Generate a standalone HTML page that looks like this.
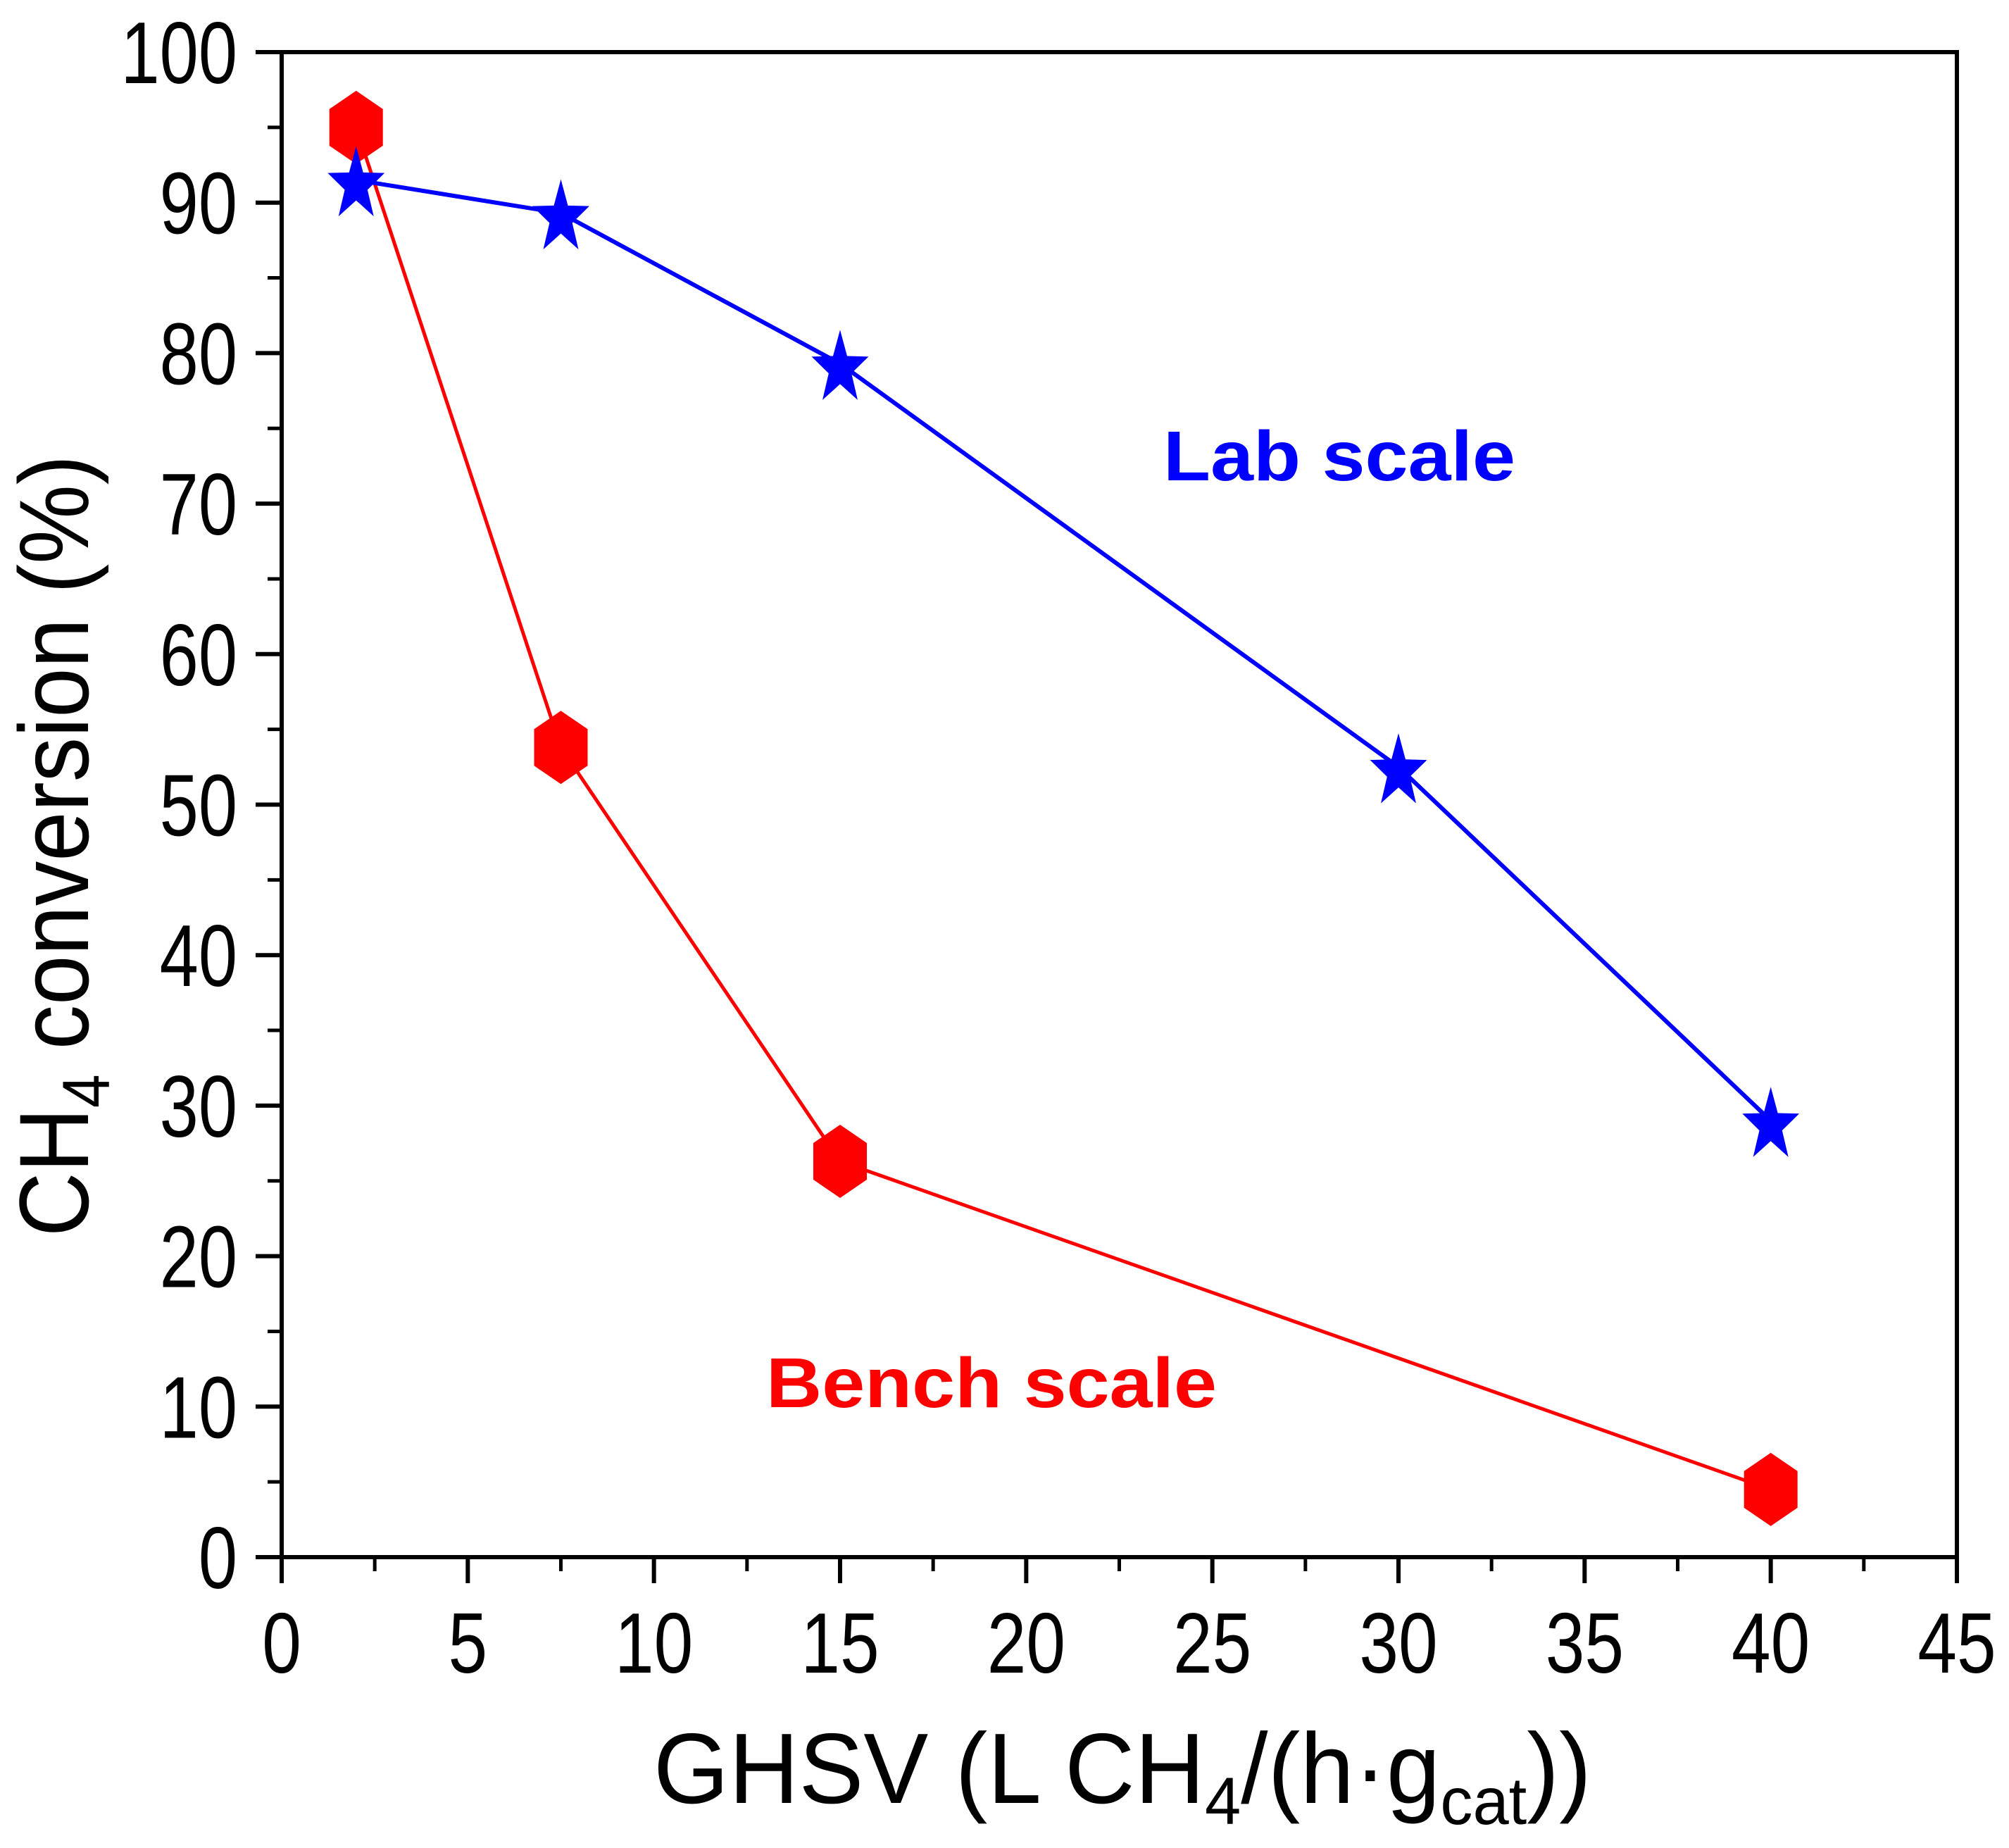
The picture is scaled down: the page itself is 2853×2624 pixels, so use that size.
<!DOCTYPE html>
<html><head><meta charset="utf-8">
<style>html,body{margin:0;padding:0;background:#fff;}svg{display:block;}</style>
</head><body>
<svg id="chart" width="2853" height="2624" viewBox="0 0 2853 2624" xmlns="http://www.w3.org/2000/svg" font-family="'Liberation Sans', Arial, sans-serif">
<rect width="2853" height="2624" fill="#fff"/>
<g id="axes"></g>
<g id="series"></g>
<text x="1652" y="682" font-size="100" font-weight="bold" fill="#0000ff" textLength="500" lengthAdjust="spacingAndGlyphs">Lab scale</text>
<text x="1088" y="1998" font-size="100" font-weight="bold" fill="#ff0000" textLength="640" lengthAdjust="spacingAndGlyphs">Bench scale</text>
<text x="928" y="2560" font-size="142" fill="#000" textLength="1332" lengthAdjust="spacingAndGlyphs">GHSV (L CH<tspan font-size="95" dy="30">4</tspan><tspan dy="-30">/(h·g</tspan><tspan font-size="95" dy="30">cat</tspan><tspan dy="-30">))</tspan></text>
<text transform="translate(125,1756) rotate(-90)" x="0" y="0" font-size="140" fill="#000" textLength="1110" lengthAdjust="spacingAndGlyphs">CH<tspan font-size="95" dy="30">4</tspan><tspan dy="-30"> conversion (%)</tspan></text>
</svg>
<script>
const xTicks = [0,5,10,15,20,25,30,35,40,45];
const yTicks = [0,10,20,30,40,50,60,70,80,90,100];
const labX = [2,7.5,15,30,40];
const labY = [91.5,89.3,79.3,52.5,29];
const benchX = [2,7.5,15,40];
const benchY = [95,53.8,26.3,4.5];

const L=400,R=2779,T=74,B=2211;
const sx=v=>L+(v-0)/(45-0)*(R-L);
const sy=v=>B-(v-0)/(100-0)*(B-T);
const NS='http://www.w3.org/2000/svg';
function mk(tag,attrs,parent){const e=document.createElementNS(NS,tag);for(const k in attrs)e.setAttribute(k,attrs[k]);parent.appendChild(e);return e;}
const axes=document.getElementById('axes');
const ser=document.getElementById('series');

let f=mk('rect',{x:L,y:T,width:R-L,height:B-T,fill:'none',stroke:'#000','stroke-width':6},axes);



for(let i=0;i<xTicks.length;i++){
  const v=xTicks[i];
  let t=mk('line',{x1:sx(v),x2:sx(v),y1:B,y2:B+37,stroke:'#000','stroke-width':6},axes);
  
  
  if(i<xTicks.length-1){
    const m=(v+xTicks[i+1])/2;
    let mt=mk('line',{x1:sx(m),x2:sx(m),y1:B,y2:B+20,stroke:'#000','stroke-width':5},axes);
    
    
  }
  let lb=mk('text',{transform:`translate(${sx(v)},2375) scale(0.82,1)`,'text-anchor':'middle','font-size':122,fill:'#000'},axes);
  lb.textContent=v;
  
  
}
for(let i=0;i<yTicks.length;i++){
  const v=yTicks[i];
  let t=mk('line',{x1:L-37,x2:L,y1:sy(v),y2:sy(v),stroke:'#000','stroke-width':6},axes);
  
  
  if(i<yTicks.length-1){
    const m=(v+yTicks[i+1])/2;
    let mt=mk('line',{x1:L-20,x2:L,y1:sy(m),y2:sy(m),stroke:'#000','stroke-width':5},axes);
    
    
  }
  let lb=mk('text',{transform:`translate(337,${sy(v)+44}) scale(0.8,1)`,'text-anchor':'end','font-size':124,fill:'#000'},axes);
  lb.textContent=v;
  
  
}

function pts(xs,ys){return xs.map((x,i)=>sx(x)+','+sy(ys[i])).join(' ');}
let rl=mk('polyline',{points:pts(benchX,benchY),fill:'none',stroke:'#ff0000','stroke-width':5},ser);


let bl=mk('polyline',{points:pts(labX,labY),fill:'none',stroke:'#0000ff','stroke-width':6},ser);



for(let i=0;i<benchX.length;i++){
  const cx=sx(benchX[i]),cy=sy(benchY[i]);
  const w=38,h=52;
  const p=[[cx,cy-h],[cx+w,cy-h/2],[cx+w,cy+h/2],[cx,cy+h],[cx-w,cy+h/2],[cx-w,cy-h/2]].map(a=>a.join(',')).join(' ');
  let m=mk('polygon',{points:p,fill:'#ff0000'},ser);
  
  
}
for(let i=0;i<labX.length;i++){
  const cx=sx(labX[i]),cy=sy(labY[i]);
  const ro=50,ri=20;let p=[];
  for(let k=0;k<10;k++){const r=k%2?ri:ro;const a=-Math.PI/2+k*Math.PI/5;p.push((cx+r*Math.cos(a)*0.85)+','+(cy+7+r*Math.sin(a)*1.1));}
  let m=mk('polygon',{points:p.join(' '),fill:'#0000ff'},ser);
  
  
}
</script>
</body></html>
